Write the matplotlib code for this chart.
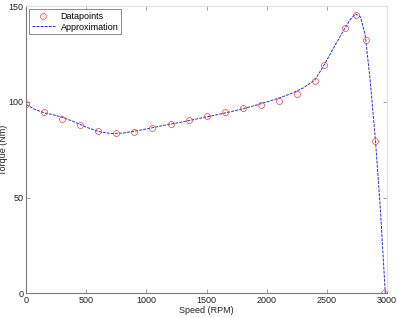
import matplotlib
matplotlib.use("Agg")
import matplotlib.pyplot as plt

# Datapoints (measured)
speed_pts = [0, 150, 300, 450, 600, 750, 900, 1050, 1200, 1350, 1500, 1650,
             1800, 1950, 2100, 2250, 2400, 2475, 2650, 2745, 2825, 2905, 2975]
torque_pts = [98.8, 94.6, 91.1, 88.0, 84.8, 83.6, 84.5, 86.6, 88.7, 90.4, 92.7, 94.6,
              96.7, 98.4, 100.5, 104.3, 111.1, 119.2, 138.5, 145.6, 132.3, 79.5, 0.0]

# Approximation curve
speed_fit = [0, 75, 150, 225, 300, 400, 500, 600, 700, 800, 900, 1000, 1100, 1200,
             1300, 1400, 1500, 1600, 1700, 1800, 1900, 2000, 2100, 2200, 2300, 2400,
             2475, 2550, 2600, 2650, 2700, 2740, 2780, 2820, 2860, 2905, 2945, 2987]
torque_fit = [98.6, 96.0, 94.3, 93.3, 92.0, 89.6, 86.8, 84.6, 83.5, 83.7, 84.7, 85.9,
              87.2, 88.4, 89.6, 90.9, 92.2, 93.5, 94.9, 96.4, 98.1, 100.0, 102.0, 104.3,
              107.2, 111.4, 119.0, 127.5, 133.0, 138.5, 143.5, 146.0, 144.5, 135.0,
              112.0, 80.0, 45.0, 0.0]

xticks = [0, 500, 1000, 1500, 2000, 2500, 3000]
yticks = [0, 50, 100, 150]

plt.rcParams['font.family'] = ['Liberation Sans', 'DejaVu Sans']

fig = plt.figure(figsize=(3.98, 3.18), dpi=100)
ax = fig.add_axes([0.066, 0.078, 0.906, 0.902])

ax.plot(speed_pts, torque_pts, linestyle='none', marker='o', markersize=4.3,
        markerfacecolor='none', markeredgecolor='#e04040', markeredgewidth=0.5,
        label='Datapoints', zorder=3)
ax.plot(speed_fit, torque_fit, color='#2a2ae0', linewidth=0.7,
        linestyle=(0, (3, 1.2)), label='Approximation', zorder=2)

ax.set_xlim(0, 3000)
ax.set_ylim(0, 150)
ax.set_xticks(xticks)
ax.set_yticks(yticks)
ax.tick_params(direction='in', length=3, width=0.6, labelsize=6.5, pad=2,
               top=True, right=True, colors='#909090', labelcolor='#222222')
for s in ['left', 'bottom']:
    ax.spines[s].set_color('#7a7a7a')
    ax.spines[s].set_linewidth(0.8)
for s in ['top', 'right']:
    ax.spines[s].set_color('#e0e0e0')
    ax.spines[s].set_linewidth(0.8)

ax.set_xlabel('Speed (RPM)', fontsize=6.5, labelpad=1, color='#222222')
ax.set_ylabel('Torque (Nm)', fontsize=6.5, labelpad=0.5, color='#222222')

leg = ax.legend(loc='upper left', fontsize=6.5, frameon=True, fancybox=False,
                borderpad=0.3, handlelength=2.6, handletextpad=0.6,
                labelspacing=0.2, borderaxespad=0.3)
leg.get_frame().set_edgecolor('#555555')
leg.get_frame().set_linewidth(0.6)

fig.savefig('out.png', dpi=100)
